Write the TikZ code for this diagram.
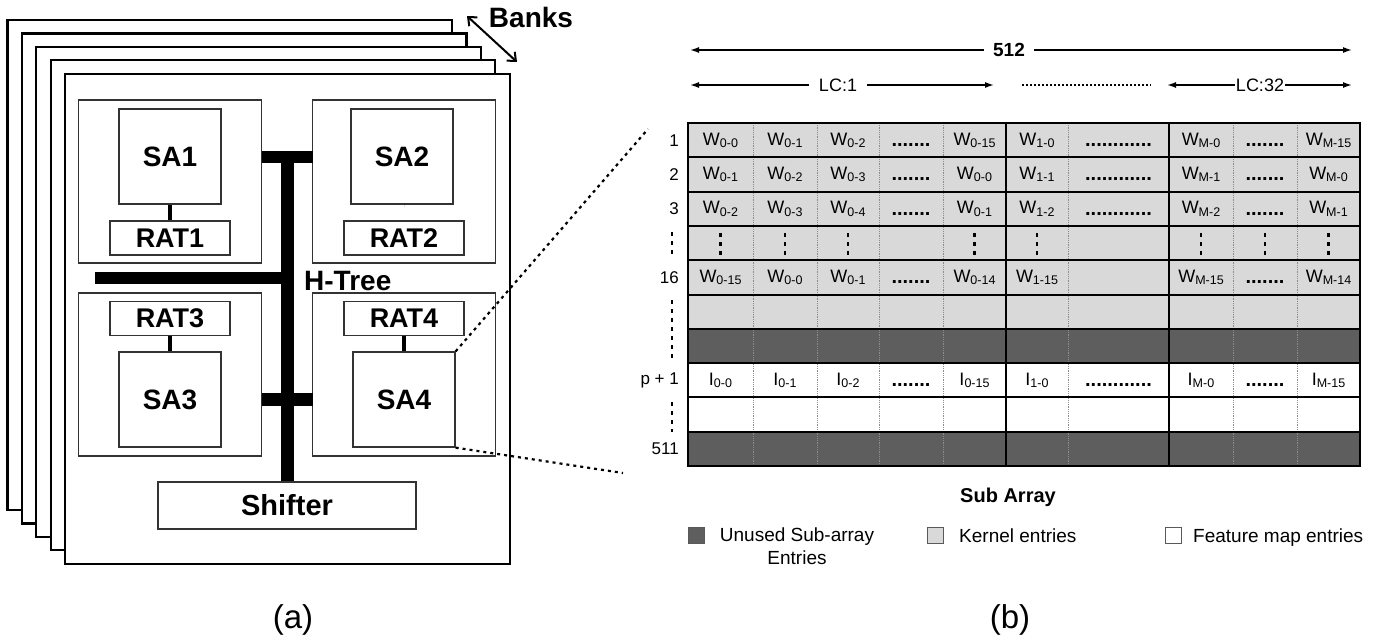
\documentclass[tikz,border=0pt]{standalone}
\usepackage{fontspec}
\setmainfont{Liberation Sans}
\usetikzlibrary{arrows.meta}
\newcommand{\fsz}[1]{\fontsize{#1}{#1}\selectfont}
\newcommand{\ent}[2]{#1{\fsz{12.5}\raisebox{-2.5pt}{#2}}}
\begin{document}
\begin{tikzpicture}[x=1pt, y=-1pt,
  bank/.style={draw, line width=2.2pt, fill=white},
  blk/.style={draw=black!80, line width=1.3pt, fill=white, inner sep=0pt, font=\fsz{28}\bfseries},
  sabox/.style={blk, minimum width=102pt, minimum height=95pt},
  ratbox/.style={blk, minimum width=120pt, minimum height=34pt, font=\fsz{27}\bfseries},
  quad/.style={blk, minimum width=183pt, minimum height=163pt},
  cell/.style={inner sep=0pt, font=\fsz{18}},
  dotcell/.style={inner sep=0pt, font=\fsz{20}\bfseries},
  rowlab/.style={anchor=east, inner sep=0pt, font=\fsz{17}},
  vdots/.style={line width=2.6pt, dash pattern=on 4pt off 5pt},
  link/.style={line width=2.2pt, dash pattern=on 3pt off 4pt},
  dimline/.style={line width=1.5pt, -{Latex[length=9pt,width=6pt]}},
  legbox/.style={draw=black!65, line width=1pt, minimum size=16pt, inner sep=0pt}]

\useasboundingbox (0,0) rectangle (1385,640);

% banks
\foreach \k in {0,...,4}
  \draw[bank] (7.5+14.4*\k, 20+13.4*\k) rectangle +(444.5,490);
\coordinate (bk1) at (467,16);
\coordinate (bk2) at (517,62);
\draw[line width=2pt, {Straight Barb[length=7pt,width=12pt]}-{Straight Barb[length=7pt,width=12pt]}] (bk1) -- (bk2);
\node[font=\fsz{28}\bfseries, inner sep=0pt] (banks) at (531,17) {Banks};

% quadrants
\node[quad] (q1) at (170.25,181.5) {};
\node[quad] (q2) at (404,181.5) {};
\node[quad] (q3) at (170.25,374.5) {};
\node[quad] (q4) at (404,374.5) {};

% H-tree
\fill (281,151) rectangle (294,482);
\fill (262,151) rectangle (313,163);
\fill (262,393) rectangle (313,406);
\fill (95,272) rectangle (294,284);
\node[font=\fsz{28}\bfseries, anchor=west, inner sep=0pt] (ht) at (304,281) {H-Tree};

% sub-arrays and RATs
\node[sabox] (sa1) at (170,156.5) {SA1};
\node[ratbox] (rat1) at (170,238) {RAT1};
\node[sabox] (sa2) at (402,156.5) {SA2};
\node[ratbox] (rat2) at (404,238) {RAT2};
\node[ratbox] (rat3) at (170,318.5) {RAT3};
\node[sabox] (sa3) at (170,399.5) {SA3};
\node[ratbox] (rat4) at (404,318.5) {RAT4};
\node[sabox] (sa4) at (404,399.5) {SA4};
\draw[line width=4pt] (sa1) -- (rat1);
\draw[line width=4pt] (sa2) -- (rat2 |- sa2.south);
\draw[line width=4pt] (rat3) -- (sa3);
\draw[line width=4pt] (rat4) -- (sa4);

\node[blk, minimum width=258pt, minimum height=47pt, font=\fsz{29}\bfseries] (sh) at (287,505.5) {Shifter};
\node[font=\fsz{33}] (la) at (293,620) {(a)};

% zoom links
\coordinate (g1) at (648,129);
\coordinate (g2) at (623,473);
\draw[link] (sa4.north east) -- (g1);
\draw[link] (sa4.south east) -- (g2);

% sub array grid
\fill[black!15] (688,123) rectangle (1360,328.8);
\fill[black!63] (688,328.8) rectangle (1360,363.1);
\fill[black!63] (688,431.7) rectangle (1360,466);
\foreach \x in {753,817,879,943,1068,1233,1297}
  \draw[black!45, line width=0.8pt, densely dotted] (\x,123) -- (\x,466);
\foreach \y in {157.3,191.6,225.9,260.2,294.5,328.8,363.1,397.4,431.7}
  \draw[line width=2pt] (688,\y) -- (1360,\y);
\draw[line width=2pt] (1006,123) -- (1006,466);
\draw[line width=2pt] (1169,123) -- (1169,466);
\draw[line width=2.5pt] (688,123) rectangle (1360,466);

% entries
\foreach \x/\a/\b/\c/\d/\e [count=\i] in {720.5/0-0/0-1/0-2/0-15/0-0, 785/0-1/0-2/0-3/0-0/0-1,
    848/0-2/0-3/0-4/0-1/0-2, 974.5/0-15/0-0/0-1/0-14/0-15, 1037/1-0/1-1/1-2/1-15/1-0,
    1201/M-0/M-1/M-2/M-15/M-0, 1328.5/M-15/M-0/M-1/M-14/M-15} {
  \node[cell] (w\i-1) at (\x,140.2) {\ent{W}{\a}};
  \node[cell] (w\i-2) at (\x,174.5) {\ent{W}{\b}};
  \node[cell] (w\i-3) at (\x,208.8) {\ent{W}{\c}};
  \node[cell] (w\i-4) at (\x,277.4) {\ent{W}{\d}};
  \node[cell] (f\i) at (\x,380.3) {\ent{I}{\e}};
  \draw[vdots] (\x,233) -- (\x,260.2);
}
\draw[vdots] (1265,233) -- (1265,260.2);
\foreach \x [count=\i] in {911,1265}
  \foreach \y [count=\j] in {140.2,174.5,208.8,277.4,380.3}
    \node[dotcell] (d\i-\j) at (\x,\y+5) {.......};
\foreach \y [count=\j] in {140.2,174.5,208.8,380.3}
  \node[dotcell] (e\j) at (1118.5,\y+5) {............};

% row labels
\node[rowlab] (l1) at (679,140.2) {1};
\node[rowlab] (l2) at (679,174.5) {2};
\node[rowlab] (l3) at (679,208.8) {3};
\node[rowlab] (l16) at (679,277.4) {16};
\node[rowlab] (lp) at (679,380.3) {p + 1};
\node[rowlab] (l511) at (679,448.9) {511};
\draw[vdots] (672,232) -- (672,258);
\draw[vdots] (672,300) -- (672,358);
\draw[vdots] (672,402) -- (672,432);

% widths
\node[font=\fsz{19}\bfseries, inner xsep=9pt] (n512) at (1009,50) {512};
\coordinate (a512) at (690,50);
\coordinate (b512) at (1352,50);
\draw[dimline] (n512) -- (a512);
\draw[dimline] (n512) -- (b512);
\node[font=\fsz{18}, inner xsep=10pt] (lc1) at (838,85) {LC:1};
\coordinate (a1) at (690,85);
\coordinate (b1) at (994,85);
\draw[dimline] (lc1) -- (a1);
\draw[dimline] (lc1) -- (b1);
\coordinate (d1) at (1022,85);
\coordinate (d2) at (1151,85);
\draw[line width=1.5pt, dash pattern=on 1.5pt off 2.5pt] (d1) -- (d2);
\node[font=\fsz{18}, inner xsep=1pt] (lc32) at (1260,85) {LC:32};
\coordinate (a32) at (1167,85);
\coordinate (b32) at (1352,85);
\draw[dimline] (lc32) -- (a32);
\draw[dimline] (lc32) -- (b32);

% legend
\node[font=\fsz{20}\bfseries, anchor=base] (sub) at (1008,502) {Sub Array};
\node[legbox, fill=black!63] (k1) at (696,535) {};
\node[font=\fontsize{19}{23}\selectfont, align=center, inner sep=0pt] (t1) at (797,546) {Unused Sub-array\\Entries};
\node[legbox, fill=black!15] (k2) at (935.5,535) {};
\node[font=\fsz{19}, anchor=base west, inner sep=0pt] (t2) at (959,542) {Kernel entries};
\node[legbox, fill=white] (k3) at (1173.5,535) {};
\node[font=\fsz{19}, anchor=base west, inner sep=0pt] (t3) at (1193,542) {Feature map entries};
\node[font=\fsz{33}] (lb) at (1010,620) {(b)};
\end{tikzpicture}
\end{document}
